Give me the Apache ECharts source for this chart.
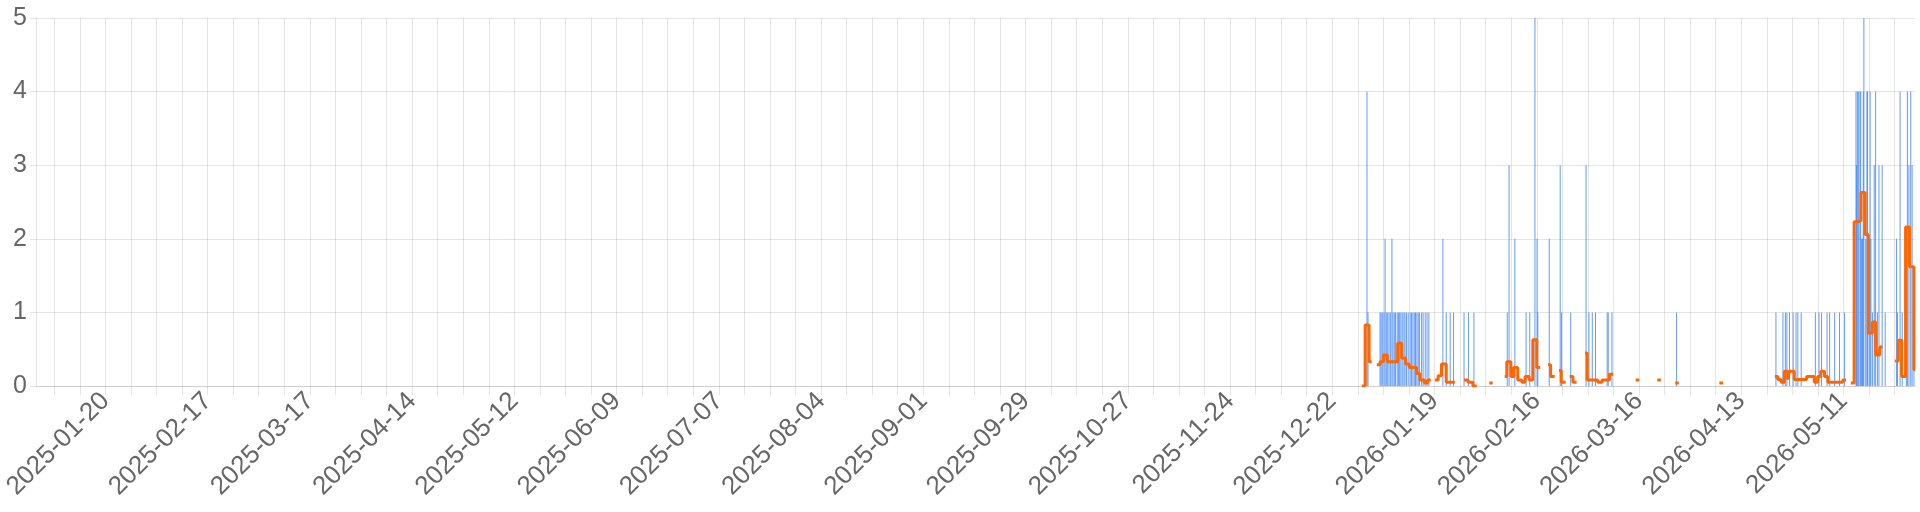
<!DOCTYPE html>
<html><head><meta charset="utf-8">
<script src="https://cdn.jsdelivr.net/npm/echarts@6/dist/echarts.min.js"></script>
<style>html,body{margin:0;padding:0;background:#fff}#c{width:1920px;height:512px}</style>
</head><body><div id="c"></div>
<script>
// ---- axis ----
const axisStart = '2025-01-01 00:00';
const axisEnd = '2026-05-30 14:00';
const firstTickMonday = '2025-01-06 00:00';
const firstLabelMonday = '2025-01-20 00:00';
const yMax = 5;

// ---- blue bars: event time, value ----
const barTimes = [
 '2025-12-31 12:00','2025-12-31 19:00',
 '2026-01-04 02:00','2026-01-04 09:00','2026-01-04 17:00','2026-01-05 04:00','2026-01-05 11:00','2026-01-05 19:00',
 '2026-01-06 04:00','2026-01-06 13:00','2026-01-06 22:00','2026-01-07 08:00','2026-01-07 15:00','2026-01-08 00:00',
 '2026-01-08 08:00','2026-01-08 19:00','2026-01-09 04:00','2026-01-09 11:00','2026-01-09 19:00','2026-01-10 04:00',
 '2026-01-10 15:00','2026-01-10 22:00','2026-01-11 08:00','2026-01-11 19:00','2026-01-12 08:00','2026-01-12 17:00',
 '2026-01-13 02:00','2026-01-13 11:00','2026-01-13 19:00','2026-01-14 04:00','2026-01-14 13:00','2026-01-14 21:00',
 '2026-01-15 11:00','2026-01-15 21:00','2026-01-16 11:00','2026-01-16 23:00','2026-01-17 11:00',
 '2026-01-21 07:00','2026-01-22 05:00','2026-01-23 07:00','2026-01-24 05:00','2026-01-27 02:00','2026-01-28 07:00',
 '2026-01-29 19:00','2026-02-07 22:00','2026-02-08 10:00','2026-02-10 00:00','2026-02-13 02:00','2026-02-14 02:00',
 '2026-02-15 12:00','2026-02-16 02:00','2026-02-16 07:00','2026-02-19 10:00','2026-02-22 10:00','2026-02-22 19:00',
 '2026-02-25 07:00','2026-03-01 12:00','2026-03-02 07:00','2026-03-03 05:00','2026-03-04 02:00','2026-03-07 07:00',
 '2026-03-07 14:00','2026-03-08 14:00','2026-03-26 07:00',
 '2026-04-22 12:00','2026-04-24 10:00','2026-04-25 02:00','2026-04-25 12:00','2026-04-26 05:00','2026-04-27 05:00',
 '2026-04-28 00:00','2026-04-28 12:00','2026-04-29 10:00','2026-05-03 07:00','2026-05-04 07:00','2026-05-05 00:00',
 '2026-05-06 12:00','2026-05-07 05:00','2026-05-08 14:00','2026-05-09 22:00','2026-05-11 07:00',
 '2026-05-14 10:00','2026-05-14 14:00','2026-05-14 19:00','2026-05-15 02:00','2026-05-15 12:00','2026-05-15 17:00',
 '2026-05-15 22:00','2026-05-16 05:00','2026-05-16 10:00','2026-05-16 14:00','2026-05-17 02:00','2026-05-17 10:00',
 '2026-05-17 14:00','2026-05-18 00:00','2026-05-18 07:00','2026-05-18 12:00','2026-05-18 22:00','2026-05-19 10:00',
 '2026-05-19 19:00','2026-05-20 07:00','2026-05-20 17:00','2026-05-21 14:00','2026-05-22 10:00','2026-05-25 12:00',
 '2026-05-25 19:00','2026-05-26 12:00','2026-05-27 02:00','2026-05-28 05:00','2026-05-28 12:00','2026-05-28 22:00',
 '2026-05-29 10:00','2026-05-29 19:00','2026-05-30 07:00'
];
const barValues = [
 4,1,
 1,1,1,1,2,1,
 1,1,1,2,1,1,
 1,1,1,1,1,1,
 1,1,1,1,1,1,
 1,1,1,1,1,1,
 1,1,1,1,1,
 2,1,1,1,1,1,
 1,1,3,2,1,1,
 5,2,1,2,3,1,
 1,3,1,1,1,1,
 1,1,1,
 1,1,1,1,1,1,
 1,1,1,1,1,1,
 1,1,1,1,1,
 4,3,4,4,4,4,
 2,2,4,5,2,4,
 4,2,4,2,1,3,
 4,1,3,3,1,2,
 1,4,1,1,4,3,
 4,3,1
];

// ---- orange step line: step start time, value (null = gap) ----
const avgTimes = [
 '2025-12-30 02:00','2025-12-31 00:00','2026-01-01 02:00','2026-01-01 19:00',null,
 '2026-01-03 05:00','2026-01-04 02:00','2026-01-05 00:00','2026-01-06 02:00','2026-01-08 22:00','2026-01-10 00:00',
 '2026-01-11 02:00','2026-01-12 02:00','2026-01-14 02:00','2026-01-15 00:00','2026-01-16 05:00','2026-01-17 02:00','2026-01-18 00:00',null,
 '2026-01-19 02:00','2026-01-20 00:00','2026-01-20 22:00','2026-01-22 05:00','2026-01-24 14:00',null,
 '2026-01-27 02:00','2026-01-28 05:00','2026-01-29 12:00','2026-01-30 14:00',null,
 '2026-02-03 00:00','2026-02-03 22:00',null,
 '2026-02-07 05:00','2026-02-07 19:00','2026-02-08 22:00','2026-02-09 17:00','2026-02-10 19:00','2026-02-11 22:00',
 '2026-02-12 19:00','2026-02-13 22:00','2026-02-14 22:00','2026-02-16 00:00','2026-02-16 22:00',null,
 '2026-02-19 02:00','2026-02-19 19:00','2026-02-20 22:00',null,
 '2026-02-22 02:00','2026-02-22 17:00','2026-02-23 22:00',null,
 '2026-02-25 00:00','2026-02-25 22:00','2026-02-26 22:00',null,
 '2026-03-01 05:00','2026-03-01 19:00','2026-03-04 17:00','2026-03-05 22:00','2026-03-07 22:00','2026-03-08 22:00',null,
 '2026-03-15 02:00','2026-03-16 02:00',null,
 '2026-03-21 00:00','2026-03-22 00:00',null,
 '2026-03-25 22:00','2026-03-26 22:00',null,
 '2026-04-07 00:00','2026-04-08 00:00',null,
 '2026-04-22 05:00','2026-04-23 00:00','2026-04-23 22:00','2026-04-24 19:00','2026-04-25 17:00','2026-04-26 05:00',
 '2026-04-27 12:00','2026-04-30 22:00','2026-05-03 00:00','2026-05-03 22:00','2026-05-04 19:00','2026-05-05 19:00',
 '2026-05-06 17:00','2026-05-10 19:00','2026-05-11 17:00',null,
 '2026-05-13 00:00','2026-05-13 22:00','2026-05-15 02:00','2026-05-15 19:00','2026-05-16 22:00','2026-05-17 19:00',
 '2026-05-18 22:00','2026-05-19 19:00','2026-05-20 22:00','2026-05-21 17:00',null,
 '2026-05-25 02:00','2026-05-26 00:00','2026-05-26 22:00','2026-05-28 00:00','2026-05-29 02:00','2026-05-30 07:00','2026-05-30 14:00'
];
const avgValues = [
 0,0.83,0.33,0.33,null,
 0.29,0.33,0.42,0.33,0.58,0.38,
 0.30,0.25,0.17,0.08,0.04,0.08,0.08,null,
 0.08,0.14,0.30,0.05,0.05,null,
 0.08,0.05,0,0,null,
 0.04,0.04,null,
 0.13,0.33,0.13,0.25,0.08,0.05,
 0.13,0.08,0.63,0.25,0.25,null,
 0.29,0.13,0.13,null,
 0.21,0.05,0.05,null,
 0.13,0.05,0.05,null,
 0.45,0.08,0.05,0.08,0.16,0.16,null,
 0.08,0.08,null,
 0.08,0.08,null,
 0.04,0.04,null,
 0.04,0.04,null,
 0.13,0.09,0.05,0.2,0.09,0.2,
 0.09,0.13,0.05,0.13,0.2,0.13,
 0.05,0.08,0.08,null,
 0.04,2.23,2.25,2.63,2.06,0.72,
 0.87,0.42,0.53,0.53,null,
 0.34,0.62,0.13,2.16,1.62,0.22,0.22
];

// ---- helpers ----
const DAY = 864e5;
const ORIGIN = Date.UTC(2025, 0, 1);
function toDay(s) {
  const [d, t] = s.split(' ');
  const [Y, M, D] = d.split('-').map(Number);
  const [h, m] = (t || '00:00').split(':').map(Number);
  return (Date.UTC(Y, M - 1, D, h, m) - ORIGIN) / DAY;
}
function fmt(v) {
  return new Date(ORIGIN + Math.round(v) * DAY).toISOString().slice(0, 10);
}
const xMin = toDay(axisStart), xMax = toDay(axisEnd);
const tickDays = [];
for (let d = toDay(firstTickMonday); d <= xMax; d += 7) tickDays.push(d);
const labelDays = [];
for (let d = toDay(firstLabelMonday); d <= xMax; d += 28) labelDays.push(d);

const barData = barTimes.map((t, i) => [toDay(t), barValues[i]]);
const avgData = avgTimes.map((t, i) => t === null ? [null, null] : [toDay(t), avgValues[i]]);

const FONT = '"Liberation Sans", Helvetica, Arial, sans-serif';
const GRID = 'rgba(0,0,0,0.1)';

const chart = echarts.init(document.getElementById('c'), null, {renderer: 'canvas'});
chart.setOption({
  animation: false,
  backgroundColor: '#ffffff',
  grid: {left: 27, right: 5, top: 18, bottom: 126, containLabel: false},
  xAxis: {
    type: 'value', min: xMin, max: xMax,
    axisLine: {show: true, lineStyle: {color: '#cfcfcf', width: 1}},
    axisTick: {show: true, length: 9, lineStyle: {color: GRID}, customValues: tickDays},
    splitLine: {show: true, lineStyle: {color: GRID, width: 1}},
    axisLabel: {
      customValues: labelDays, rotate: 45, margin: 11,
      color: '#666', fontSize: 26, fontFamily: FONT,
      formatter: fmt
    }
  },
  yAxis: {
    type: 'value', min: 0, max: yMax, interval: 1,
    axisLine: {show: true, lineStyle: {color: GRID}},
    axisTick: {show: true, length: 6, lineStyle: {color: GRID}},
    splitLine: {show: true, lineStyle: {color: GRID}},
    axisLabel: {color: '#666', fontSize: 25, fontFamily: FONT, margin: 9}
  },
  series: [
    {
      type: 'bar', data: barData, barWidth: 1,
      itemStyle: {color: 'rgba(60,130,245,0.8)'},
      silent: true
    },
    {
      type: 'line', data: avgData, step: 'end', showSymbol: false, connectNulls: false,
      lineStyle: {color: '#ff6600', width: 3},
      itemStyle: {color: '#ff6600'},
      silent: true, z: 3
    }
  ]
});
</script>
</body></html>
